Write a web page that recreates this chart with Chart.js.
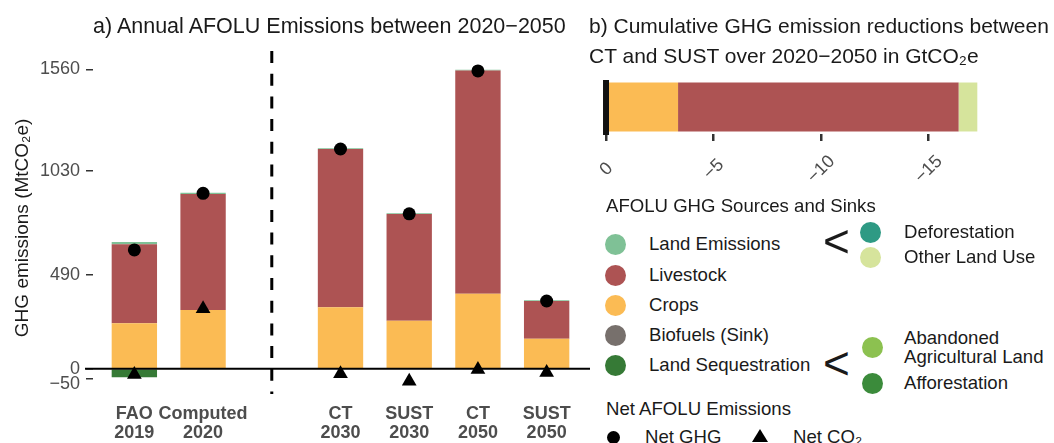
<!DOCTYPE html>
<html>
<head>
<meta charset="utf-8">
<script src="https://cdn.jsdelivr.net/npm/chart.js@4.4.0/dist/chart.umd.min.js"></script>
<style>
  body { margin: 0; background: #fff; font-family: "Liberation Sans", Arial, sans-serif; color: #1a1a1a; }
  #page { position: relative; width: 1054px; height: 443px; overflow: hidden; background: #fff; }
  canvas { position: absolute; }
  .t { position: absolute; white-space: nowrap; line-height: 1; }
  .title { font-size: 21px; }
  .lg { font-size: 18.6px; }
  .dot { position: absolute; width: 21px; height: 21px; border-radius: 50%; }
  .br { position: absolute; font-size: 46px; line-height: 1; }
</style>
</head>
<body>
<div id="page">
  <canvas id="annual" width="600" height="443" style="left:0;top:0"></canvas>
  <canvas id="cumulative" width="494" height="150" style="left:560px;top:60px"></canvas>

  <div class="t title" style="left:93px;top:16px;font-size:21.5px">a) Annual AFOLU Emissions between 2020−2050</div>
  <div class="t title" style="left:589px;top:15px">b) Cumulative GHG emission reductions between</div>
  <div class="t title" style="left:589px;top:45px">CT and SUST over 2020−2050 in GtCO₂e</div>

  <div id="legend"></div>
</div>

<script>
// ---- data ----
const categories = [["FAO", "2019"], ["Computed", "2020"], "", ["CT", "2030"], ["SUST", "2030"], ["CT", "2050"], ["SUST", "2050"]];
const landSequestration = [-45, 0, null, 0, 0, 0, 0];
const crops = [237, 306, null, 321, 250, 391, 156];
const livestock = [411, 604, null, 824, 556, 1163, 197];
const landEmissions = [12, 7, null, 4, 4, 4, 4];
const netGHG = [619, 914, null, 1145, 807, 1552, 353];
const netCO2 = [-30, 313, null, -26, -65, -4, -20];
const yTicks = [-50, 0, 490, 1030, 1560];

const reductionCategories = ["CT vs SUST"];
const cropsReduction = [-3.35];
const livestockReduction = [-13.05];
const otherLandUseReduction = [-0.87];
const reductionTicks = [0, -5, -10, -15];
const reductionTickLabels = ["0  ", "−5 ", "−10", "−15"];

const colours = {
  landEmissions: "#7fc196",
  livestock: "#ad5353",
  crops: "#fbbb54",
  biofuels: "#77706c",
  landSequestration: "#367a36",
  deforestation: "#2e9a84",
  otherLandUse: "#d6e49c",
  abandoned: "#8cc150",
  afforestation: "#3b8b3b"
};

const FONT = "'Liberation Sans', Arial, sans-serif";

// zero line + dashed divider for panel a
const dividerPlugin = {
  id: "divider",
  afterDatasetsDraw(chart) {
    const { ctx, chartArea, scales } = chart;
    const y0 = scales.y.getPixelForValue(0);
    ctx.save();
    ctx.strokeStyle = "#000";
    ctx.lineWidth = 2;
    ctx.beginPath();
    ctx.moveTo(chartArea.left - 15, y0);
    ctx.lineTo(chartArea.right + 9, y0);
    ctx.stroke();
    const xd = scales.x.getPixelForValue(2);
    ctx.lineWidth = 3;
    ctx.setLineDash([12, 10.7]);
    ctx.beginPath();
    ctx.moveTo(xd, chartArea.top - 3);
    ctx.lineTo(xd, chartArea.bottom + 8);
    ctx.stroke();
    ctx.restore();
  }
};

new Chart(document.getElementById("annual"), {
  type: "bar",
  data: {
    labels: categories,
    datasets: [
      { label: "Land Sequestration", data: landSequestration, backgroundColor: colours.landSequestration, stack: "bars", order: 1 },
      { label: "Crops", data: crops, backgroundColor: colours.crops, stack: "bars", order: 1 },
      { label: "Livestock", data: livestock, backgroundColor: colours.livestock, stack: "bars", order: 1 },
      { label: "Land Emissions", data: landEmissions, backgroundColor: colours.landEmissions, stack: "bars", order: 1 },
      { type: "line", label: "Net GHG", data: netGHG, showLine: false, pointStyle: "circle", pointRadius: 6.5,
        backgroundColor: "#000", borderWidth: 0, stack: "ghg", order: 0 },
      { type: "line", label: "Net CO2", data: netCO2, showLine: false, pointStyle: "triangle", pointRadius: 8.5,
        backgroundColor: "#000", borderWidth: 0, stack: "co2", order: 0 }
    ]
  },
  options: {
    responsive: false,
    animation: false,
    layout: { padding: { top: 54, left: 0, right: 19, bottom: 0 } },
    datasets: { bar: { barPercentage: 0.66, categoryPercentage: 1 } },
    plugins: { legend: { display: false }, tooltip: { enabled: false } },
    scales: {
      x: {
        stacked: true,
        grid: { display: false, drawTicks: false },
        border: { display: false },
        ticks: {
          autoSkip: false, maxRotation: 0, padding: 19, color: "#4d4d4d",
          font: { family: FONT, size: 18, weight: "bold", lineHeight: "19px" }
        },
        afterFit: (s) => { s.height = 57; }
      },
      y: {
        stacked: true,
        min: -90,
        max: 1640,
        afterBuildTicks: (s) => { s.ticks = yTicks.map(v => ({ value: v })); },
        grid: {
          display: true, drawOnChartArea: false, drawTicks: true, tickLength: 14,
          tickBorderDash: [7, 7], color: "#333", lineWidth: 1.5
        },
        border: { display: false },
        ticks: {
          autoSkip: false, padding: 6, color: "#4d4d4d",
          callback: (v) => v < 0 ? ["", "−" + Math.abs(v)] : String(v),
          font: (c) => ({ family: FONT, size: 18, lineHeight: c.tick && c.tick.value < 0 ? "12px" : "21px" })
        },
        title: {
          display: true, text: "GHG emissions (MtCO₂e)   ", color: "#1a1a1a",
          padding: { top: 11, bottom: 0 }, font: { family: FONT, size: 19 }
        },
        afterFit: (s) => { s.width = 100; }
      }
    }
  },
  plugins: [dividerPlugin]
});

// black reference bar at 0 for panel b
const zeroBarPlugin = {
  id: "zeroBar",
  afterDatasetsDraw(chart) {
    const { ctx, chartArea, scales } = chart;
    const x0 = scales.x.getPixelForValue(0);
    ctx.save();
    ctx.fillStyle = "#111";
    ctx.fillRect(x0 - 3, chartArea.top, 6, chartArea.bottom - chartArea.top + 1);
    ctx.restore();
  }
};

new Chart(document.getElementById("cumulative"), {
  type: "bar",
  data: {
    labels: reductionCategories,
    datasets: [
      { label: "Crops", data: cropsReduction, backgroundColor: colours.crops },
      { label: "Livestock", data: livestockReduction, backgroundColor: colours.livestock },
      { label: "Other Land Use", data: otherLandUseReduction, backgroundColor: colours.otherLandUse }
    ]
  },
  options: {
    indexAxis: "y",
    responsive: false,
    animation: false,
    layout: { padding: { top: 20, left: 40, right: 64, bottom: 0 } },
    datasets: { bar: { barPercentage: 0.907, categoryPercentage: 1 } },
    plugins: { legend: { display: false }, tooltip: { enabled: false } },
    scales: {
      x: {
        stacked: true,
        reverse: true,
        min: -17.86,
        max: 0.28,
        afterBuildTicks: (s) => { s.ticks = reductionTicks.map(v => ({ value: v })); },
        grid: { display: true, drawOnChartArea: false, drawTicks: true, tickLength: 7, color: "#333", lineWidth: 2.5 },
        border: { display: false },
        ticks: {
          autoSkip: false, minRotation: 45, maxRotation: 45, labelOffset: 11, padding: 10, color: "#4d4d4d",
          callback: (v) => reductionTickLabels[reductionTicks.indexOf(v)],
          font: { family: FONT, size: 18 }
        },
        afterFit: (s) => { s.height = 76; }
      },
      y: { stacked: true, display: false }
    }
  },
  plugins: [zeroBarPlugin]
});

// ---- legend (HTML) ----
const legendItems = [
  { label: "Land Emissions", colour: colours.landEmissions, y: 244 },
  { label: "Livestock", colour: colours.livestock, y: 275 },
  { label: "Crops", colour: colours.crops, y: 305 },
  { label: "Biofuels (Sink)", colour: colours.biofuels, y: 335 },
  { label: "Land Sequestration", colour: colours.landSequestration, y: 365 }
];
const subItems = [
  { label: ["Deforestation"], colour: colours.deforestation, x: 870, y: 232, ty: [232] },
  { label: ["Other Land Use"], colour: colours.otherLandUse, x: 870, y: 257, ty: [257] },
  { label: ["Abandoned", "Agricultural Land"], colour: colours.abandoned, x: 872, y: 347, ty: [338, 357.5] },
  { label: ["Afforestation"], colour: colours.afforestation, x: 872, y: 383, ty: [383] }
];

const legend = document.getElementById("legend");
function addText(txt, x, cy, cls) {
  const d = document.createElement("div");
  d.className = "t " + cls;
  d.textContent = txt;
  d.style.left = x + "px";
  d.style.top = (cy - 9.5) + "px";
  legend.appendChild(d);
}
function addDot(colour, cx, cy, size) {
  const d = document.createElement("div");
  d.className = "dot";
  d.style.background = colour;
  d.style.width = d.style.height = size + "px";
  d.style.left = (cx - size / 2) + "px";
  d.style.top = (cy - size / 2) + "px";
  legend.appendChild(d);
}

addText("AFOLU GHG Sources and Sinks", 606, 206.7, "lg");
legendItems.forEach(it => { addDot(it.colour, 615, it.y, 21); addText(it.label, 649, it.y, "lg"); });
subItems.forEach(it => {
  addDot(it.colour, it.x, it.y, 21);
  it.label.forEach((l, i) => addText(l, 904, it.ty[i], "lg"));
});
[242, 364].forEach(cy => {
  const b = document.createElement("div");
  b.className = "br";
  b.textContent = "<";
  b.style.left = "823px";
  b.style.top = (cy - 24) + "px";
  legend.appendChild(b);
});

addText("Net AFOLU Emissions", 606, 409, "lg");
addDot("#000", 613, 437, 13);
addText("Net GHG", 645, 437, "lg");
const tri = document.createElementNS("http://www.w3.org/2000/svg", "svg");
tri.setAttribute("width", "16");
tri.setAttribute("height", "14");
tri.style.position = "absolute";
tri.style.left = "752px";
tri.style.top = "429px";
tri.innerHTML = '<polygon points="8,0 16,13 0,13" fill="#000"/>';
legend.appendChild(tri);
addText("Net CO₂", 793, 437, "lg");
</script>
</body>
</html>
